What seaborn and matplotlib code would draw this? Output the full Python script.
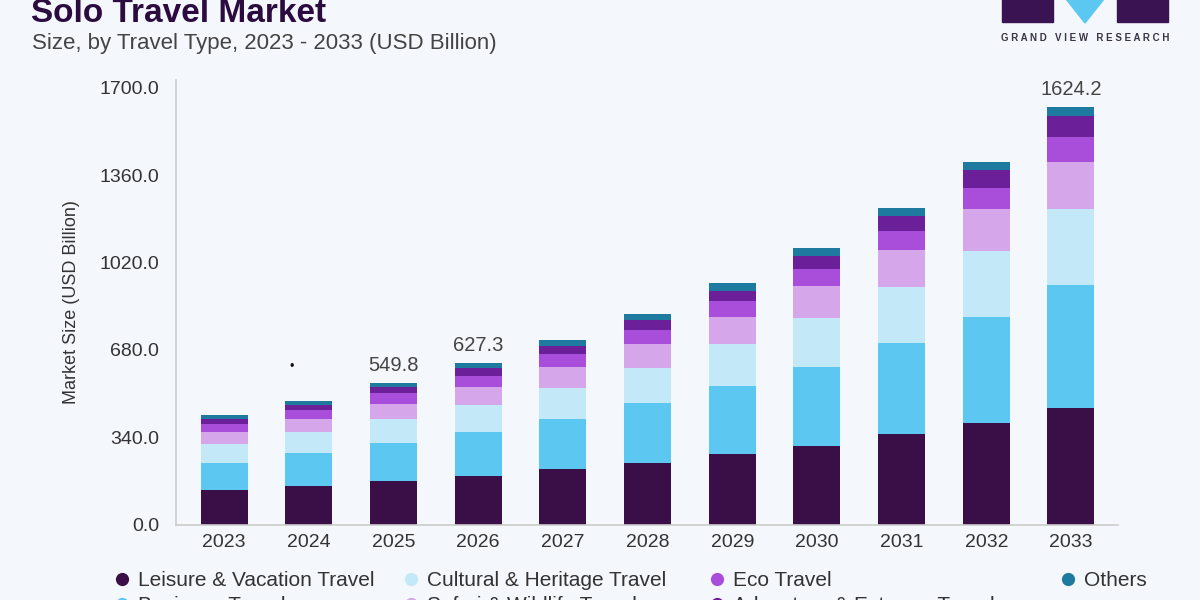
import numpy as np
import pandas as pd
import matplotlib
matplotlib.use("Agg")
import matplotlib.pyplot as plt
import seaborn as sns
from matplotlib.lines import Line2D
from matplotlib.patches import Rectangle, Polygon

# ---------------- data ----------------
years = ["2023", "2024", "2025", "2026", "2027", "2028", "2029", "2030", "2031", "2032", "2033"]
series_names = ["Leisure & Vacation Travel", "Business Travel", "Cultural & Heritage Travel",
                "Safari & Wildlife Travel", "Eco Travel", "Adventure & Extreme Travel", "Others"]
leisure = [134.3, 151.0, 169.3, 190.0, 214.9, 240.6, 273.3, 306.8, 351.1, 396.3, 452.4]
business = [106.3, 126.2, 146.8, 168.9, 195.8, 231.2, 265.9, 307.5, 354.3, 412.7, 480.0]
cultural = [72.8, 81.7, 93.4, 106.3, 121.9, 138.6, 163.5, 188.4, 220.4, 256.9, 294.7]
safari = [47.9, 50.6, 59.6, 71.3, 81.7, 92.3, 103.9, 125.8, 142.8, 161.2, 185.3]
eco = [28.8, 36.2, 41.7, 42.8, 49.5, 54.5, 63.5, 66.2, 74.0, 84.1, 97.3]
adventure = [19.4, 18.3, 23.3, 31.1, 31.1, 38.9, 40.1, 51.7, 59.6, 68.9, 80.6]
others = [16.8, 18.0, 15.7, 16.9, 23.4, 22.2, 28.8, 28.9, 31.1, 32.3, 33.9]
labelled_years = ["2025", "2026", "2033"]
y_ticks = [0, 340, 680, 1020, 1360, 1700]

series_values = [leisure, business, cultural, safari, eco, adventure, others]
colors = ["#3a0f48", "#5cc8f2", "#c3e9f9", "#d5a6ea", "#a84edb", "#6b1f98", "#1e7a9e"]

BG = "#f4f7fb"

sns.set_theme(style="white")
plt.rcParams["font.family"] = ["Liberation Sans", "DejaVu Sans"]

fig = plt.figure(figsize=(12, 6), dpi=100, facecolor=BG)
ax = fig.add_axes([176 / 1200, 1 - 524.5 / 600, (1118 - 176) / 1200, (524.5 - 80) / 600])
ax.set_facecolor(BG)

bottom = np.zeros(len(years))
for name, vals, col in zip(series_names, series_values, colors):
    df = pd.DataFrame({"year": years, "value": vals})
    sns.barplot(data=df, x="year", y="value", order=years, color=col, width=0.555,
                bottom=bottom, linewidth=0, saturation=1, ax=ax, errorbar=None)
    bottom = bottom + np.array(vals)

totals = bottom
for i, y in enumerate(years):
    if y in labelled_years:
        ax.annotate(f"{totals[i]:.1f}", (i, totals[i]), xytext=(0, 6), textcoords="offset points",
                    ha="center", va="bottom", fontsize=14.5, color="#444444")

ax.set_xlim(-0.567, 10.555)
ax.set_ylim(0, 1730)
ax.set_yticks(y_ticks)
ax.set_yticklabels([f"{v:.1f}" for v in y_ticks])
ax.tick_params(axis="y", length=0, pad=12, labelsize=14, labelcolor="#333333")
ax.tick_params(axis="x", length=0, pad=7, labelsize=14, labelcolor="#333333")
ax.set_xlabel("")
ax.set_ylabel("Market Size (USD Billion)", fontsize=13, color="#333333", labelpad=14)
for s in ["top", "right"]:
    ax.spines[s].set_visible(False)
for s in ["left", "bottom"]:
    ax.spines[s].set_color("#cccccc")
    ax.spines[s].set_linewidth(1.2)

# stray dot in reference
fig.text(292 / 1200, 1 - 367 / 600, "\u2022", fontsize=9, ha="center", va="center", color="#111111")

# titles
fig.text(31 / 1200, 1 - 22 / 600, "Solo Travel Market", fontsize=24, fontweight="heavy",
         color="#2b0b40", ha="left", va="baseline")
fig.text(32 / 1200, 1 - 43 / 600, "Size, by Travel Type, 2023 - 2033 (USD Billion)", fontsize=16,
         color="#444444", ha="left", va="center")

# logo
logo_dark = "#3a1452"
fig.patches.append(Rectangle((1002 / 1200, 1 - 22 / 600), 51 / 1200, 30 / 600,
                             transform=fig.transFigure, color=logo_dark, zorder=5))
fig.patches.append(Rectangle((1117 / 1200, 1 - 22 / 600), 51 / 1200, 30 / 600,
                             transform=fig.transFigure, color=logo_dark, zorder=5))
fig.patches.append(Polygon([(1062 / 1200, 1.01), (1108 / 1200, 1.01), (1085 / 1200, 1 - 23 / 600)],
                           closed=True, transform=fig.transFigure, color="#5cc8f2", zorder=5))
fig.text(1085 / 1200, 1 - 38 / 600, "G R A N D   V I E W   R E S E A R C H", fontsize=7.0,
         fontweight="bold", color="#3b3347", ha="center", va="center")

# legend: 4 columns placed individually
handles = [Line2D([0], [0], marker="o", linestyle="", markersize=9.5, markerfacecolor=c,
                  markeredgewidth=0) for c in colors]
col_x = [112, 401, 707, 1058]
cols = [[0, 1], [2, 3], [4, 5], [6]]
for cx, idx in zip(col_x, cols):
    fig.legend([handles[i] for i in idx], [series_names[i] for i in idx],
               loc="upper left", bbox_to_anchor=(cx / 1200, 1 - 571 / 600),
               frameon=False, fontsize=15, handletextpad=0.25, handlelength=1.0,
               labelspacing=0.3, borderpad=0, borderaxespad=0, labelcolor="#333333")

fig.savefig("out.png", dpi=100, facecolor=BG)
